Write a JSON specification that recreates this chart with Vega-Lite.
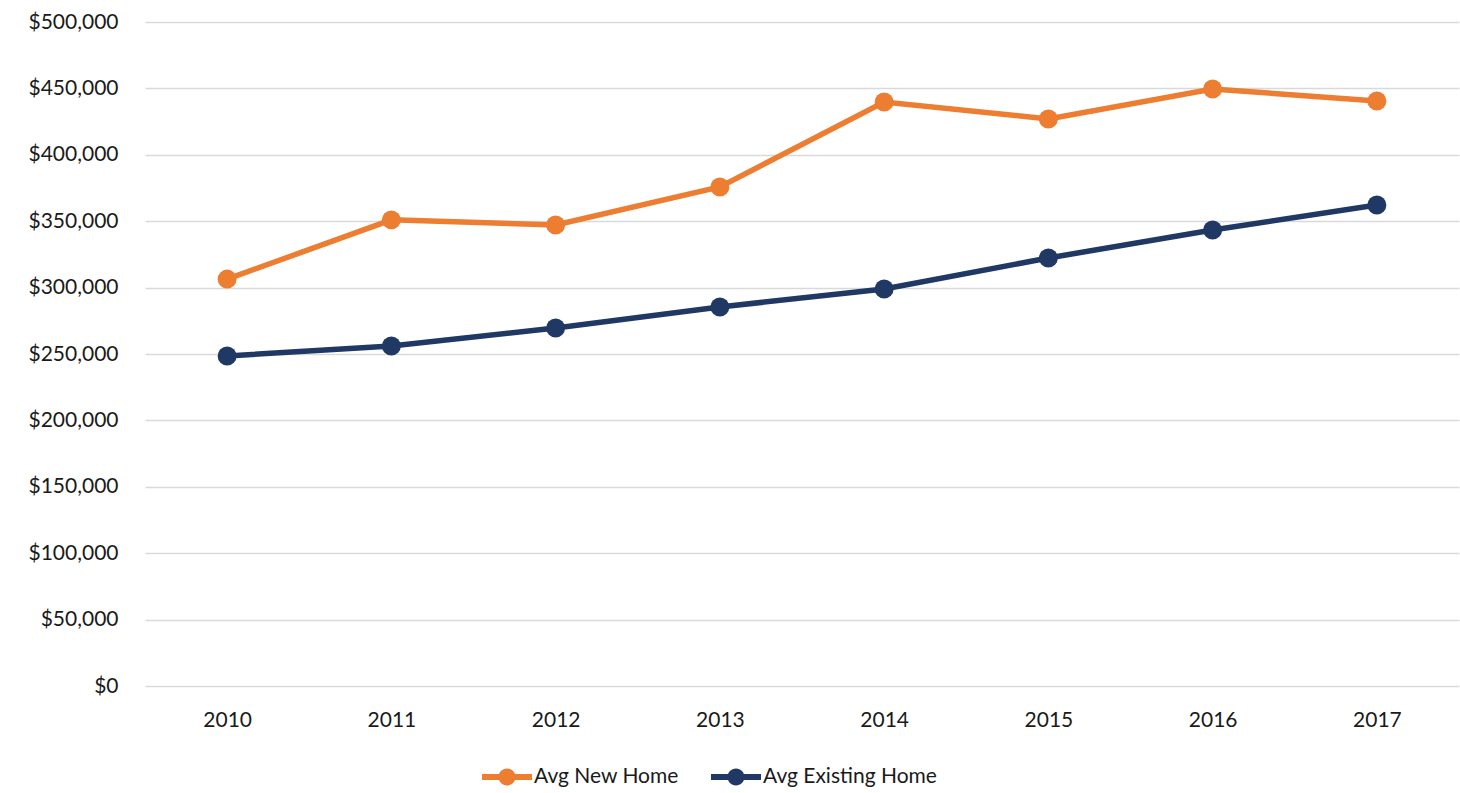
{
  "$schema": "https://vega.github.io/schema/vega-lite/v6.json",
  "width": 1314,
  "height": 664,
  "autosize": {"type": "none"},
  "padding": {"left": 145, "top": 22, "right": 1, "bottom": 107},
  "background": "white",
  "config": {
    "view": {"stroke": null},
    "font": "Lato",
    "axis": {"labelFont": "Lato", "labelFontSize": 21, "labelColor": "#1a1a1a"},
    "legend": {"labelFont": "Lato", "labelFontSize": 21, "labelColor": "#1a1a1a", "labelLimit": 400}
  },
  "data": {
    "values": [
      {"year": "2010", "series": "Avg New Home", "value": 306400},
      {"year": "2011", "series": "Avg New Home", "value": 351000},
      {"year": "2012", "series": "Avg New Home", "value": 347100},
      {"year": "2013", "series": "Avg New Home", "value": 375800},
      {"year": "2014", "series": "Avg New Home", "value": 439800},
      {"year": "2015", "series": "Avg New Home", "value": 427000},
      {"year": "2016", "series": "Avg New Home", "value": 449600},
      {"year": "2017", "series": "Avg New Home", "value": 440500},
      {"year": "2010", "series": "Avg Existing Home", "value": 248500},
      {"year": "2011", "series": "Avg Existing Home", "value": 256000},
      {"year": "2012", "series": "Avg Existing Home", "value": 269600},
      {"year": "2013", "series": "Avg Existing Home", "value": 285400},
      {"year": "2014", "series": "Avg Existing Home", "value": 299000},
      {"year": "2015", "series": "Avg Existing Home", "value": 322300},
      {"year": "2016", "series": "Avg Existing Home", "value": 343400},
      {"year": "2017", "series": "Avg Existing Home", "value": 362200}
    ]
  },
  "encoding": {
    "x": {
      "field": "year", "type": "ordinal",
      "scale": {"type": "point", "padding": 0.5},
      "axis": {"title": null, "labelAngle": 0, "domain": false, "ticks": false, "labelPadding": 23, "grid": false}
    },
    "y": {
      "field": "value", "type": "quantitative",
      "scale": {"domain": [0, 500000], "nice": false},
      "axis": {"title": null, "values": [0,50000,100000,150000,200000,250000,300000,350000,400000,450000,500000], "format": "$,.0f", "domain": false, "ticks": false, "labelPadding": 27, "gridColor": "#D9D9D9", "gridWidth": 1.5}
    },
    "color": {
      "field": "series", "type": "nominal",
      "scale": {"domain": ["Avg New Home", "Avg Existing Home"], "range": ["#ED7D31", "#203864"]},
      "legend": {
        "title": null, "orient": "none", "direction": "horizontal",
        "legendX": 337, "legendY": 730,
        "symbolType": "M-1,-0.12H1V0.12H-1Z M0.34,0 A0.34,0.34 0 1,1 -0.34,0 A0.34,0.34 0 1,1 0.34,0Z",
        "symbolSize": 2500, "symbolStrokeWidth": 0, "labelOffset": 2, "columnPadding": 32,
        "encode": {"symbols": {"update": {"fill": {"scale": "color", "field": "value"}, "strokeWidth": {"value": 0}, "opacity": {"value": 1}}}}
      }
    }
  },
  "layer": [
    {"mark": {"type": "line", "strokeWidth": 5.5}},
    {"mark": {"type": "point", "filled": true, "size": 360, "opacity": 1}}
  ]
}
